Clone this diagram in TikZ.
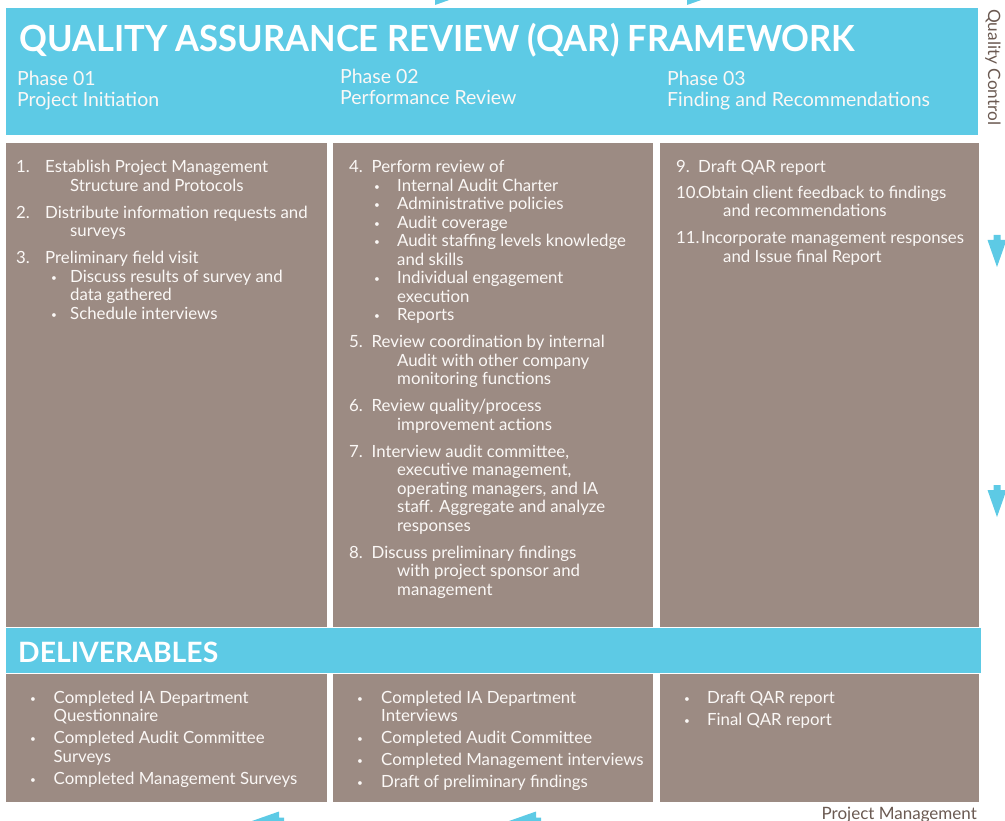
\documentclass[tikz,border=0pt]{standalone}
\usepackage{fontspec}
\setmainfont{Lato}
\usepackage{graphicx}

\definecolor{qarcyan}{HTML}{5DCAE5}
\definecolor{qarbrown}{HTML}{9C8B83}
\definecolor{qarlabel}{HTML}{6B5A52}
\definecolor{qarwhite}{HTML}{FBF8F6}

% tab stops of the step lists
\newlength\numw
\newlength\contw
\newlength\bulw
\newcommand\qnum[2]{\makebox[\numw][l]{#1}#2\par}
\newcommand\qcont[1]{\hspace*{\contw}#1\par}
\newcommand\qbul[1]{\hspace*{\bulw}\makebox[\dimexpr\contw-\bulw\relax][l]{\raisebox{1pt}{\scalebox{0.6}{\textbullet}}}#1\par}
\newcommand\qgap[1][8.5pt]{\vspace{#1}}

% block arrow of the review cycle: tip x, tip y, angle
\newcommand\flowarrow[3]{%
  \fill[qarcyan,shift={(#1,#2)},rotate=#3] (0,0) -- (-27,9.5) -- (-27,3.5) -- (-32,3.5)
    -- (-32,-3.5) -- (-27,-3.5) -- (-27,-9.5) -- cycle;}

\begin{document}
\begin{tikzpicture}[x=1pt,y=-1pt,
    band/.style={fill=qarcyan},
    panel/.style={fill=qarbrown},
    steps/.style={anchor=base west,inner sep=0pt,text=qarwhite,font=\fontsize{16.8}{18.5}\selectfont},
    phase/.style={anchor=base west,inner sep=0pt,text=qarwhite,font=\fontsize{19.5}{21}\selectfont},
    side/.style={inner sep=0pt,text=qarlabel,font=\fontsize{17}{20}\selectfont}]

    \useasboundingbox (0,0) rectangle (1005,821);
    \clip (0,0) rectangle (1005,821);

    % Header band
    \fill[band] (6,8) rectangle (978,135);
    \node[anchor=base west,inner sep=0pt,text=white,font=\fontsize{36}{36}\bfseries\selectfont] (title) at (19,52)
        {\resizebox{836pt}{\height}{QUALITY ASSURANCE REVIEW (QAR) FRAMEWORK}};
    \node[phase] (phase1) at (17,86) {Phase 01};
    \node[phase] (phase1name) at (17,107) {Project Initiation};
    \node[phase] (phase2) at (340,84) {Phase 02};
    \node[phase] (phase2name) at (340,105) {Performance Review};
    \node[phase] (phase3) at (667,86) {Phase 03};
    \node[phase] (phase3name) at (667,107) {Finding and Recommendations};

    % Step panels
    \fill[panel] (6,143) rectangle (327,627);
    \fill[panel] (333,143) rectangle (653,627);
    \fill[panel] (660,143) rectangle (979,627);

    \node[steps] (steps1) at (16,173) {\parbox[t]{305pt}{\setlength\numw{29pt}\setlength\contw{54pt}\setlength\bulw{35pt}%
        \qnum{1.}{Establish Project Management}
        \qcont{Structure and Protocols}\qgap
        \qnum{2.}{Distribute information requests and}
        \qcont{surveys}\qgap
        \qnum{3.}{Preliminary field visit}
        \qbul{Discuss results of survey and}
        \qcont{data gathered}
        \qbul{Schedule interviews}}};

    \node[steps] (steps2) at (349,173) {\parbox[t]{300pt}{\setlength\numw{22.5pt}\setlength\contw{48pt}\setlength\bulw{25pt}%
        \qnum{4.}{Perform review of}
        \qbul{Internal Audit Charter}
        \qbul{Administrative policies}
        \qbul{Audit coverage}
        \qbul{Audit staffing levels knowledge}
        \qcont{and skills}
        \qbul{Individual engagement}
        \qcont{execution}
        \qbul{Reports}\qgap
        \qnum{5.}{Review coordination by internal}
        \qcont{Audit with other company}
        \qcont{monitoring functions}\qgap
        \qnum{6.}{Review quality/process}
        \qcont{improvement actions}\qgap
        \qnum{7.}{Interview audit committee,}
        \qcont{executive management,}
        \qcont{operating managers, and IA}
        \qcont{staff. Aggregate and analyze}
        \qcont{responses}\qgap
        \qnum{8.}{Discuss preliminary findings}
        \qcont{with project sponsor and}
        \qcont{management}}};

    \node[steps] (steps3) at (676,173) {\parbox[t]{300pt}{\setlength\numw{22pt}\setlength\contw{47pt}%
        \qnum{9.}{Draft QAR report}\qgap[7pt]
        \qnum{10.}{Obtain client feedback to findings}
        \qcont{and recommendations}\qgap
        \qnum{11.}{\,Incorporate management responses}
        \qcont{and Issue final Report}}};

    % Deliverables band
    \fill[band] (6,628) rectangle (981,673);
    \node[anchor=base west,inner sep=0pt,text=white,font=\fontsize{28}{28}\bfseries\selectfont] (deliv) at (18,662)
        {\resizebox{200pt}{\height}{DELIVERABLES}};

    % Deliverable panels
    \fill[panel] (6,674) rectangle (327,802);
    \fill[panel] (333,674) rectangle (653,802);
    \fill[panel] (660,674) rectangle (979,802);

    \node[steps] (deliv1) at (30,703) {\parbox[t]{290pt}{\setlength\bulw{0pt}\setlength\contw{23.5pt}%
        \qbul{Completed IA Department}
        \qcont{Questionnaire}\qgap[3.5pt]
        \qbul{Completed Audit Committee}
        \qcont{Surveys}\qgap[3.5pt]
        \qbul{Completed Management Surveys}}};

    \node[steps] (deliv2) at (357,703) {\parbox[t]{295pt}{\setlength\bulw{0pt}\setlength\contw{24pt}%
        \qbul{Completed IA Department}
        \qcont{Interviews}\qgap[3.5pt]
        \qbul{Completed Audit Committee}\qgap[3.5pt]
        \qbul{Completed Management interviews}\qgap[3.5pt]
        \qbul{Draft of preliminary findings}}};

    \node[steps] (deliv3) at (684,703) {\parbox[t]{290pt}{\setlength\bulw{0pt}\setlength\contw{23pt}%
        \qbul{Draft QAR report}\qgap[3.5pt]
        \qbul{Final QAR report}}};

    % Side labels
    \node[side,anchor=base west,rotate=-90] (qc) at (988,9) {\resizebox{116pt}{\height}{Quality Control}};
    \node[side,anchor=base east] (pm) at (977,819) {Project Management};

    % Review cycle arrows
    \flowarrow{462}{-4.5}{0}
    \flowarrow{714}{-4.5}{0}
    \flowarrow{997}{267}{-90}
    \flowarrow{997}{517}{-90}
    \flowarrow{252}{821}{180}
    \flowarrow{509}{821}{180}

\end{tikzpicture}
\end{document}
